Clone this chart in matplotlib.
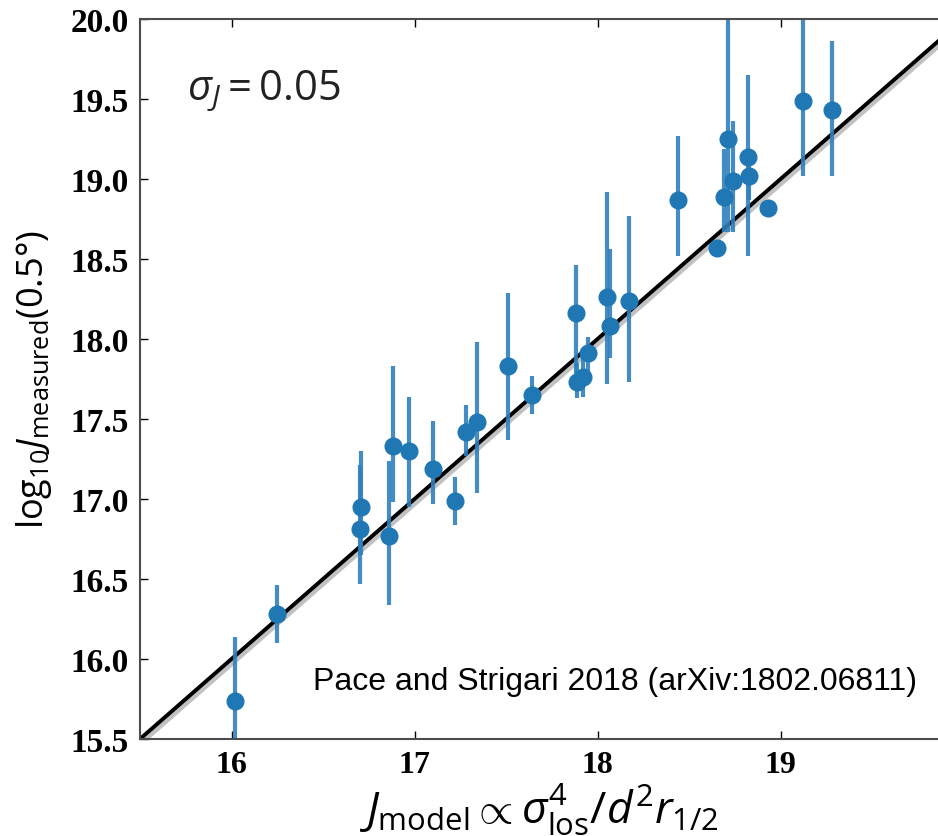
import matplotlib
matplotlib.use("Agg")
import matplotlib.pyplot as plt
import numpy as np

plt.rcParams['mathtext.fontset'] = 'custom'
plt.rcParams['mathtext.rm'] = 'Open Sans'
plt.rcParams['mathtext.it'] = 'Open Sans:italic'
plt.rcParams['mathtext.bf'] = 'Open Sans:bold'

# data
j_model = [16.02, 16.25, 16.70, 16.71, 16.86, 16.88, 16.97, 17.10, 17.22, 17.28,
           17.34, 17.51, 17.64, 17.88, 17.89, 17.92, 17.95, 18.05, 18.07, 18.17,
           18.44, 18.65, 18.69, 18.71, 18.74, 18.82, 18.83, 18.93, 19.12, 19.28]
j_meas = [15.74, 16.28, 16.81, 16.95, 16.77, 17.33, 17.30, 17.19, 16.99, 17.42,
          17.48, 17.83, 17.65, 18.16, 17.73, 17.76, 17.91, 18.26, 18.08, 18.24,
          18.87, 18.57, 18.89, 19.25, 18.99, 19.14, 19.02, 18.82, 19.49, 19.43]
err_lo = [0.40, 0.18, 0.34, 0.30, 0.43, 0.35, 0.35, 0.22, 0.15, 0.15,
          0.44, 0.46, 0.12, 0.40, 0.10, 0.12, 0.12, 0.54, 0.20, 0.51,
          0.35, 0.04, 0.22, 0.58, 0.32, 0.62, 0.15, 0.06, 0.47, 0.41]
err_hi = [0.40, 0.18, 0.40, 0.35, 0.47, 0.50, 0.34, 0.30, 0.15, 0.17,
          0.50, 0.46, 0.12, 0.30, 0.12, 0.14, 0.10, 0.66, 0.48, 0.53,
          0.40, 0.04, 0.30, 0.80, 0.37, 0.51, 0.15, 0.03, 0.60, 0.43]
one_to_one = [15.5, 20.0]
x_ticks = [16, 17, 18, 19]
y_ticks = [15.5, 16.0, 16.5, 17.0, 17.5, 18.0, 18.5, 19.0, 19.5, 20.0]

W, H = 938, 837
fig = plt.figure(figsize=(W / 100, H / 100), dpi=100)
ax = fig.add_axes([140 / W, (H - 740) / H, (W - 140) / W, 720 / H])

xl = np.array(one_to_one)
ax.fill_between(xl, xl - 0.045, xl + 0.02, color='0.6', alpha=0.6, lw=0, zorder=1)
ax.plot(one_to_one, one_to_one, color='black', lw=2.8, zorder=1.5)

ax.errorbar(j_model, j_meas, yerr=[err_lo, err_hi], fmt='none',
            ecolor='#2f80bd', elinewidth=3.0, alpha=0.9, zorder=2)
ax.plot(j_model, j_meas, 'o', color='#1f77b4', ms=12, mec='#1f77b4', zorder=3)

ax.set_xlim(15.5, 19.86)
ax.set_ylim(15.5, 20.0)
ax.set_xticks(x_ticks)
ax.set_yticks(y_ticks)
ax.set_xticklabels([str(t) for t in x_ticks])
ax.set_yticklabels(['%.1f' % t for t in y_ticks])
ax.tick_params(direction='in', top=True, right=False, length=6, width=1.0, pad=8)
for lab in ax.get_xticklabels():
    lab.set_fontfamily('Liberation Serif')
    lab.set_fontweight('bold')
    lab.set_fontsize(23)
for lab in ax.get_yticklabels():
    lab.set_fontfamily('Liberation Serif')
    lab.set_fontweight('bold')
    lab.set_fontsize(24)
for s in ['left', 'top', 'bottom']:
    ax.spines[s].set_color('0.3')
    ax.spines[s].set_linewidth(1.5)
ax.spines['right'].set_visible(False)

ax.set_ylabel(r'$\mathrm{log}_{10}J_{\mathrm{measured}}(0.5°)$', fontsize=26, labelpad=12)
ax.set_xlabel(r'$J_{\mathrm{model}} \propto \sigma^4_{\mathrm{los}}/d^2r_{1/2}$', fontsize=32, labelpad=2)

fig.text(187 / W, 1 - 100 / H, r'$\sigma_J = 0.05$', fontsize=30, color='#222222',
         va='baseline', ha='left')
fig.text(313 / W, 1 - 690 / H, 'Pace and Strigari 2018 (arXiv:1802.06811)',
         fontfamily='Liberation Sans', fontsize=23, color='black', va='baseline', ha='left')

fig.savefig('out.png', dpi=100)
